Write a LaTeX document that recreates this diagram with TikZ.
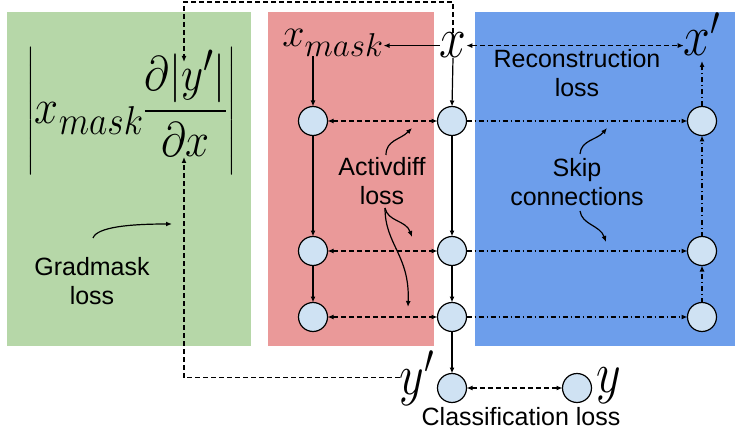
\RequirePackage{fix-cm}
\documentclass[tikz,border=0pt]{standalone}
\usepackage{graphicx}
\usepackage{amsmath}
\usepackage{fontspec}
\setmainfont{Liberation Sans}
\usetikzlibrary{arrows.meta}
\DeclareMathSizes{40}{40}{33}{28}
\DeclareMathSizes{48}{48}{34}{28}
\definecolor{gfill}{HTML}{B6D7A8}
\definecolor{rfill}{HTML}{EA9999}
\definecolor{bfill}{HTML}{6D9EEB}
\definecolor{cfill}{HTML}{CFE2F3}
\newcommand\vstr[1]{\scalebox{1}[1.2]{#1}}
\begin{document}
\begin{tikzpicture}[x=1pt,y=-1pt,
  every node/.style={inner sep=0pt,outer sep=0pt},
  circ/.style={circle,draw=black,line width=1.2pt,fill=cfill,minimum size=29pt},
  lbl/.style={font=\fontsize{25}{29.5}\selectfont,align=center},
  sym/.style={font=\fontsize{48}{56}\selectfont},
  conn/.style={line width=1.2pt,-{Latex[length=6pt,width=5pt]}},
  biconn/.style={line width=1.2pt,{Latex[length=6pt,width=5pt]}-{Latex[length=6pt,width=5pt]}},
  dsh/.style={dash pattern=on 5pt off 3pt},
  dshdot/.style={dash pattern=on 5pt off 3pt on 1pt off 3pt},
  note/.style={line width=1.2pt,-{Latex[length=6pt,width=5pt]}}
]
\useasboundingbox (0,0) rectangle (735,430);
\fill[gfill] (7,12) rectangle (251,346);
\fill[rfill] (268,12) rectangle (434,346);
\fill[bfill] (475,12) rectangle (735,346);

% circles
\node[circ] (L1) at (313,121) {};
\node[circ] (L2) at (313,251) {};
\node[circ] (L3) at (313,317) {};
\node[circ] (M1) at (452,121) {};
\node[circ] (M2) at (452,251) {};
\node[circ] (M3) at (452,317) {};
\node[circ] (R1) at (702,121) {};
\node[circ] (R2) at (702,251) {};
\node[circ] (R3) at (702,317) {};
\node[circ] (Yp) at (452,388) {};
\node[circ] (Y) at (577,388) {};

% symbols
\node[sym,anchor=base] (x) at (453,58) {\vstr{$x$}};
\node[sym,anchor=base] (xp) at (702,56) {\vstr{$x'$}};
\node[sym,anchor=base] (yp) at (417,394) {\vstr{$y'$}};
\node[sym,anchor=base] (y) at (609,392) {\vstr{$y$}};
\node[font=\fontsize{40}{48}\selectfont,anchor=base] (xmask) at (333,47) {$x_{mask}$};
\node[font=\fontsize{40}{48}\selectfont] (grad) at (131,111) {\scalebox{1.075}[1.22]{$\left|x_{mask}\dfrac{\partial|y'|}{\partial x}\right|$}};

% labels
\node[lbl] (rec) at (577,73) {Reconstruction\\loss};
\node[lbl] (act) at (382,181) {Activdiff\\loss};
\node[lbl] (skip) at (577,182) {Skip\\connections};
\node[lbl] (gm) at (92,281) {Gradmask\\loss};
\node[lbl,anchor=base] (cls) at (521,425) {Classification loss};

% main connectors
\draw[conn] (x.west) -- (x.west -| xmask.east);
\draw[biconn,dsh] (x.east) -- (xp.west |- x.east);
\draw[conn] (L1 |- xmask.south) -- (L1.north);
\draw[conn] (x.south) -- (M1.north);
\draw[conn] (L1) -- (L2);
\draw[conn] (L2) -- (L3);
\draw[conn] (M1) -- (M2);
\draw[conn] (M2) -- (M3);
\draw[conn] (M3) -- (Yp);
\draw[biconn,dsh] (L1) -- (M1);
\draw[biconn,dsh] (L2) -- (M2);
\draw[biconn,dsh] (L3) -- (M3);
\draw[conn,dshdot] (M1) -- (R1);
\draw[conn,dshdot] (M2) -- (R2);
\draw[conn,dshdot] (M3) -- (R3);
\draw[conn,dshdot] (R3) -- (R2);
\draw[conn,dshdot] (R2) -- (R1);
\draw[conn,dshdot,shorten >=5pt] (R1.north) -- (xp.south);
\draw[biconn,dsh] (Yp) -- (Y);

% gradient paths
\coordinate (topc) at (184,2);
\coordinate (gtop) at (184,62);
\coordinate (gbot) at (184,157);
\draw[conn,dsh] (x.north) |- (topc) -- (gtop);
\draw[conn,dsh] (yp.west) -| (gbot);

% annotation arrows
\coordinate (a0) at (386,155);
\coordinate (a1) at (412,128);
\coordinate (a2) at (385,208);
\coordinate (a3) at (412,237);
\coordinate (a4) at (408,307);
\coordinate (s0) at (580,154);
\coordinate (s1) at (607,128);
\coordinate (s2) at (580,211);
\coordinate (s3) at (606,242);
\coordinate (g0) at (93,238);
\coordinate (g1) at (172,224);
\draw[note] (a0) .. controls (386,140) and (400,140) .. (a1);
\draw[note] (a2) .. controls (388,222) and (406,220) .. (a3);
\draw[note] (a2) .. controls (385,245) and (410,255) .. (a4);
\draw[note] (s0) .. controls (581,140) and (597,140) .. (s1);
\draw[note] (s2) .. controls (582,225) and (600,225) .. (s3);
\draw[note] (g0) .. controls (97,227) and (130,224) .. (g1);
\end{tikzpicture}
\end{document}
